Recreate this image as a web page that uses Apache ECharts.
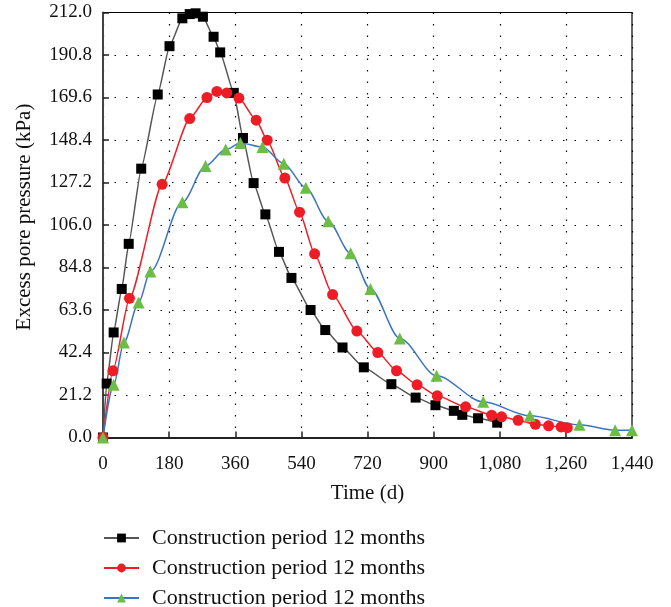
<!DOCTYPE html>
<html>
<head>
<meta charset="utf-8">
<script src="https://cdn.jsdelivr.net/npm/echarts@6/dist/echarts.min.js"></script>
<style>
html,body{margin:0;padding:0;background:#fff;}
#chart{width:671px;height:607px;}
</style>
</head>
<body>
<div id="chart"></div>
<script>
// Time (d) and excess pore pressure (kPa) per series
var seriesNames = ["Construction period 12 months", "Construction period 12 months ", "Construction period 12 months  "];

var blackT = [0, 10, 29, 51, 70, 104, 149, 181, 216, 236, 252, 272, 301, 319, 356, 381, 410, 442, 479, 513, 565, 605, 652, 710, 785, 851, 905, 955, 978, 1021, 1073];
var blackP = [0, 26.9, 52.4, 74.1, 96.6, 134.1, 171.1, 195.2, 209.1, 211.2, 211.6, 209.9, 199.9, 192.1, 171.9, 149.4, 126.9, 111.3, 92.6, 79.6, 63.6, 53.6, 44.9, 35.0, 26.6, 19.9, 16.1, 13.3, 11.3, 9.6, 7.4];

var redT = [0, 27, 72, 161, 236, 283, 310, 337, 370, 417, 447, 495, 535, 576, 625, 691, 748, 799, 855, 910, 987, 1058, 1085, 1130, 1177, 1213, 1247, 1264];
var redP = [0, 33.3, 69.4, 126.3, 159.1, 169.6, 172.6, 171.9, 169.3, 158.3, 148.3, 129.4, 112.4, 91.6, 71.3, 53.1, 42.4, 33.3, 26.3, 20.8, 15.3, 11.1, 10.3, 8.6, 6.6, 5.8, 5.3, 4.9];

var greenT = [0, 29, 57, 97, 129, 216, 279, 334, 374, 434, 492, 552, 613, 674, 728, 808, 908, 1035, 1162, 1297, 1394, 1440];
var greenP = [0, 26.3, 47.4, 67.4, 82.8, 117.3, 135.4, 143.6, 146.9, 144.9, 136.6, 124.6, 107.9, 91.9, 74.1, 49.4, 30.8, 17.8, 10.8, 6.3, 3.6, 3.6];

var xTickStep = 180, xMax = 1440;
var yTickStep = 21.2, yMax = 212;

function zip(t, p) { return t.map(function (v, i) { return [v, p[i]]; }); }

var FONT = "Liberation Serif";
var chart = echarts.init(document.getElementById('chart'), null, {renderer: 'canvas'});

var gridDots = {show: true, lineStyle: {color: '#000', type: [1.5, 10], width: 1.2}};

function legendAt(i, top) {
  return {
    orient: 'vertical', left: 103, top: top, padding: 0,
    itemWidth: 35, itemHeight: 11,
    formatter: function (n) { return n.trim(); },
    textStyle: {fontFamily: FONT, fontSize: 22, color: '#111', padding: [0, 0, 0, 8]},
    data: [seriesNames[i]]
  };
}

chart.setOption({
  animation: false,
  backgroundColor: '#fff',
  textStyle: {fontFamily: FONT},
  grid: {left: 103, right: 39, top: 12.5, bottom: 169.5, show: true, borderColor: '#000', borderWidth: 1.2, backgroundColor: 'transparent'},
  legend: [legendAt(0, 527), legendAt(1, 557), legendAt(2, 587)],
  xAxis: {
    type: 'value', min: 0, max: xMax, interval: xTickStep,
    name: 'Time (d)', nameLocation: 'middle', nameGap: 45,
    nameTextStyle: {fontFamily: FONT, fontSize: 21, color: '#111'},
    axisLine: {show: true, onZero: false, lineStyle: {color: '#222', width: 2}},
    axisTick: {show: true, inside: true, length: 6, lineStyle: {color: '#222', width: 1.5}},
    axisLabel: {fontFamily: FONT, fontSize: 19, color: '#111', margin: 17,
      formatter: function (v) { return v.toLocaleString('en-US'); }},
    splitLine: gridDots
  },
  yAxis: {
    type: 'value', min: 0, max: yMax, interval: yTickStep,
    name: 'Excess pore pressure (kPa)', nameLocation: 'middle', nameGap: 68,
    nameTextStyle: {fontFamily: FONT, fontSize: 21, color: '#111', padding: [0, 0, 0, 16]},
    axisLine: {show: true, onZero: false, lineStyle: {color: '#444', width: 2}},
    axisTick: {show: true, inside: true, length: 6, lineStyle: {color: '#222', width: 1.5}},
    axisLabel: {fontFamily: FONT, fontSize: 19, color: '#111', margin: 11,
      formatter: function (v) { return v.toFixed(1); }},
    splitLine: gridDots
  },
  series: [
    {name: seriesNames[0], type: 'line', data: zip(blackT, blackP), smooth: 0.15, smoothMonotone: 'x',
     symbol: 'rect', symbolSize: 10, itemStyle: {color: '#000'}, lineStyle: {color: '#555', width: 1.5}},
    {name: seriesNames[1], type: 'line', data: zip(redT, redP), smooth: 0.2, smoothMonotone: 'x',
     symbol: 'circle', symbolSize: 11, itemStyle: {color: '#ee1c25'}, lineStyle: {color: '#ee1c25', width: 1.5}},
    {name: seriesNames[2], type: 'line', data: zip(greenT, greenP), smooth: 0.3, smoothMonotone: 'x',
     symbol: 'triangle', symbolSize: 12, itemStyle: {color: '#6cbd45'}, lineStyle: {color: '#3b74c4', width: 1.5}}
  ]
});
</script>
</body>
</html>
